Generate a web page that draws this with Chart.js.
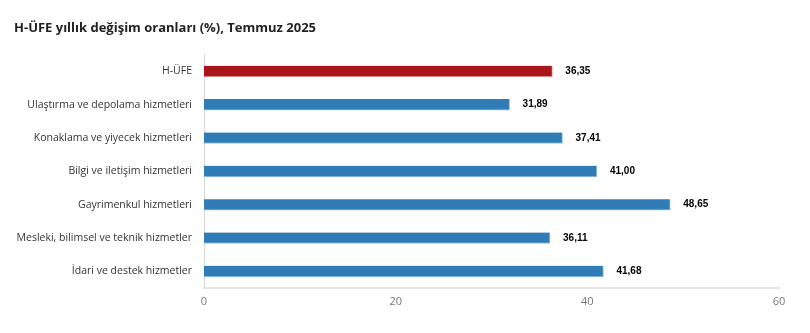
<!DOCTYPE html>
<html>
<head>
<meta charset="utf-8">
<script src="https://cdn.jsdelivr.net/npm/chart.js@4"></script>
<style>
  html, body { margin: 0; padding: 0; background: #fff; }
  #wrap { width: 810px; height: 333px; position: relative; }
</style>
</head>
<body>
<div id="wrap"><canvas id="chart"></canvas></div>
<script>
// Chart data
const titleText = "H-ÜFE yıllık değişim oranları (%), Temmuz 2025";
const categories = [
    "H-ÜFE",
    "Ulaştırma ve depolama hizmetleri",
    "Konaklama ve yiyecek hizmetleri",
    "Bilgi ve iletişim hizmetleri",
    "Gayrimenkul hizmetleri",
    "Mesleki, bilimsel ve teknik hizmetler",
    "İdari ve destek hizmetler"
];
const rates = [36.35, 31.89, 37.41, 41.00, 48.65, 36.11, 41.68];
const xTicks = [0, 20, 40, 60];

const barColors = categories.map((c, i) => i === 0 ? "#ab161c" : "#2f7cb7");
const edgeColors = categories.map((c, i) => i === 0 ? "#d98a8d" : "#9cc3e3");

// Formats a number the Turkish way: 36,35
function formatRate(v) {
    return v.toFixed(2).replace(".", ",");
}

// Draws the value label to the right of each bar
const valueLabels = {
    id: "valueLabels",
    afterDatasetsDraw(chart) {
        const ctx = chart.ctx;
        const meta = chart.getDatasetMeta(0);
        ctx.save();
        ctx.font = "bold 10px 'Liberation Sans', Arial, sans-serif";
        ctx.fillStyle = "#000";
        ctx.textAlign = "left";
        ctx.textBaseline = "middle";
        meta.data.forEach((bar, i) => {
            ctx.fillText(formatRate(rates[i]), bar.x + 13, bar.y);
        });
        ctx.restore();
    }
};

new Chart(document.getElementById("chart"), {
    type: "bar",
    data: {
        labels: categories,
        datasets: [{
            data: rates,
            backgroundColor: barColors,
            borderColor: edgeColors,
            borderWidth: { top: 0, left: 0, right: 1, bottom: 1 },
            borderSkipped: false,
            barThickness: 11
        }]
    },
    options: {
        indexAxis: "y",
        responsive: true,
        maintainAspectRatio: false,
        animation: false,
        layout: { padding: { left: 14, right: 31, top: 0, bottom: 0 } },
        plugins: {
            legend: { display: false },
            tooltip: { enabled: false },
            title: {
                display: true,
                text: titleText,
                align: "start",
                color: "#222",
                font: { family: "'Open Sans', sans-serif", size: 13, weight: "bold" },
                padding: { top: 20, bottom: 19 }
            }
        },
        scales: {
            x: {
                min: 0,
                max: 60,
                afterBuildTicks(scale) {
                    scale.ticks = xTicks.map(v => ({ value: v }));
                },
                afterFit(scale) { scale.height = 45; },
                grid: { display: false, drawTicks: false },
                border: { display: true, color: "#e6e6e6", width: 2 },
                ticks: {
                    padding: 7,
                    color: "#777",
                    font: { family: "'Open Sans', sans-serif", size: 11 }
                }
            },
            y: {
                afterFit(scale) { scale.width = 190; },
                grid: { display: false, drawTicks: false },
                border: { display: true, color: "#d8d8d8", width: 1 },
                ticks: {
                    padding: 12,
                    color: "#333",
                    font: { family: "'Open Sans', sans-serif", size: 10.5 }
                }
            }
        }
    },
    plugins: [valueLabels]
});
</script>
</body>
</html>
